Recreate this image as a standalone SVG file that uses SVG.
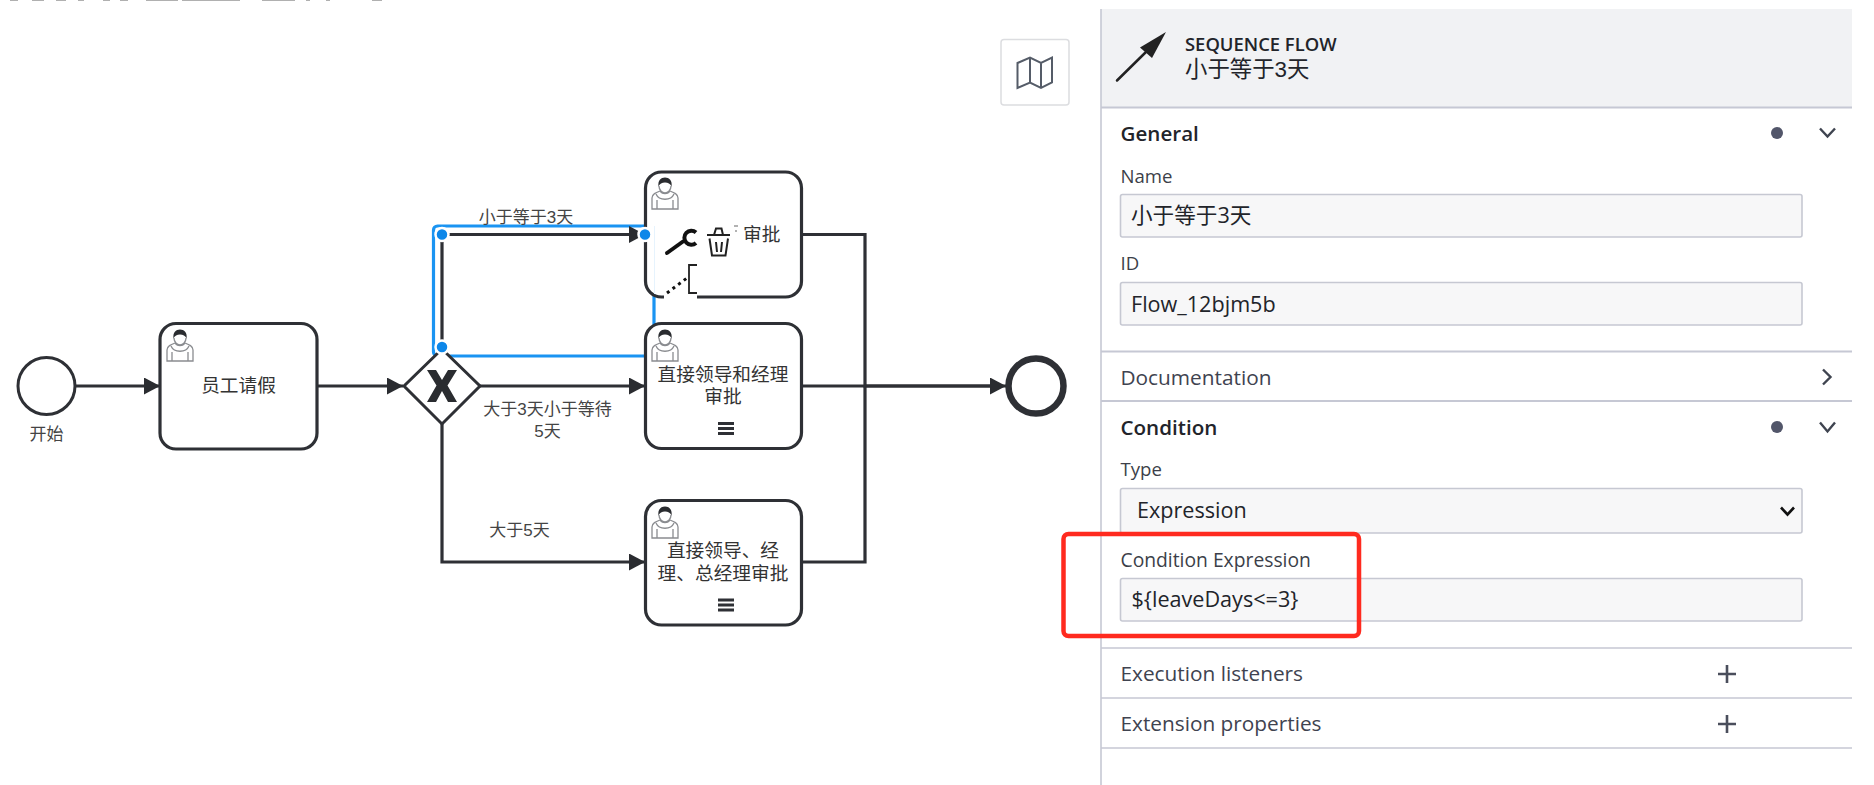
<svg xmlns="http://www.w3.org/2000/svg" xmlns:xlink="http://www.w3.org/1999/xlink" width="1874" height="785" viewBox="0 0 1874 785">
<style>
text{font-family:"Liberation Sans","Noto Sans CJK SC",sans-serif}
.t{font-size:18.7px;fill:#333;text-anchor:middle}
.l{font-size:17px;fill:#444;text-anchor:middle}
.task{fill:#fff;stroke:#2e3035;stroke-width:3.2}
.flow{fill:none;stroke:#2e3035;stroke-width:3.2}
.p{font-family:"Open Sans","Noto Sans CJK SC",sans-serif;fill:#22242a}
.h{font-size:20.6px;font-weight:600}
.f{font-size:18.6px;fill:#3c3f49}
.s{font-size:20.8px;fill:#404350}
.v{font-size:21.6px}
.inp{fill:#f7f7f8;stroke:#c6c8d2;stroke-width:1.6}
.div{stroke:#c6c8d4;stroke-width:1.6}
.chev{fill:none;stroke:#3f4450;stroke-width:2.4}
.dot{fill:#0d87e9;stroke:#fff;stroke-width:2.5}
.bar{fill:#2e3035}
</style>
<defs>
<marker id="arr" markerUnits="userSpaceOnUse" markerWidth="17" markerHeight="18" refX="16" refY="8.5" orient="auto"><path d="M0 0L16 8.5L0 17Z" fill="#2a2c30"/></marker>
<g id="user">
<path d="M1 32V21C1 17 5 15.500 9 14C11 17.500 17 17.500 19 14C23 15.500 27 17 27 21V32Z M1 32H27 M6 32V23 M22 32V23 M5 17C8 24 20 24 23 17" fill="#fff" stroke="#8a8c90" stroke-width="1.300"/>
<path d="M8 9C8 13 11 16 14 16C17 16 20 13 20 9" fill="#fff" stroke="#8a8c90" stroke-width="1.300"/>
<path d="M7.500 9.500C6.500 3.500 10 0.500 14 0.500C18 0.500 21.500 3.500 20.500 9.500C19.500 7 17 5.500 14 5.500C11 5.500 8.500 7 7.500 9.500Z" fill="#2a2c30"/>
</g>
<g id="menu" class="bar"><rect x="0" y="0" width="16" height="3"/><rect x="0" y="5" width="16" height="3"/><rect x="0" y="10" width="16" height="3"/></g>
</defs>
<rect width="1874" height="785" fill="#fff"/>
<path d="M10 .5H18M32 .5H44M56 .5H66M78 .5H84M103 .5H110M120 .5H128M146 .5H178M182 .5H240M262 .5H295M306 .5H310M326 .5H330M372 .5H382" stroke="#b0b0b0" stroke-width="1" fill="none"/>

<rect id="selection" x="433.500" y="226" width="220.500" height="130" rx="4" fill="none" stroke="#1a94f2" stroke-width="3.200"/>

<g id="connectors">
<path class="flow" marker-end="url(#arr)" d="M75 386H160"/>
<path class="flow" marker-end="url(#arr)" d="M317 386H403"/>
<path class="flow" marker-end="url(#arr)" d="M442 350V234.500H645"/>
<path class="flow" marker-end="url(#arr)" d="M480 386H645"/>
<path class="flow" marker-end="url(#arr)" d="M442 424V562H645"/>
<path class="flow" d="M802 234.500H865V386H990"/>
<path class="flow" marker-end="url(#arr)" d="M802 386H1006"/>
<path class="flow" d="M802 562H865V386"/>
</g>

<g id="start"><circle cx="46.500" cy="386" r="28.500" fill="#fff" stroke="#2e3035" stroke-width="3"/><text class="l" x="46.500" y="440">开始</text></g>

<g id="task-employee"><rect class="task" x="160" y="323.500" width="157" height="125.500" rx="16"/><use xlink:href="#user" href="#user" x="166" y="329"/><text class="t" x="238.500" y="392">员工请假</text></g>

<g id="gateway"><path d="M442 349L480 386L442 424L404 386Z" fill="#fff" stroke="#2e3035" stroke-width="3"/><path d="M427 370H436L442 380L448 370H457L447.500 385.500L457 402H448L442 391L436 402H427L436.500 385.500Z" fill="#2a2c30"/></g>

<g id="task-leader">
<rect class="task" x="645.500" y="172" width="156" height="125" rx="16"/>
<use xlink:href="#user" href="#user" x="651" y="177"/>
<path d="M654 226H739V262H697V299H664V294H654Z" fill="#fff"/>
<path d="M654.500 226V294" stroke="#1a94f2" stroke-width="1" opacity=".1"/>
<text class="t" x="743" y="241" style="text-anchor:start">审批</text>
<path d="M734 226H738M737 231H735" stroke="#666" stroke-width="1.200" fill="none"/>
<path d="M667 253L683 241.500" stroke="#111" stroke-width="4" stroke-linecap="round"/>
<path d="M696 232.500A7 7 0 1 0 696 243" fill="none" stroke="#111" stroke-width="4"/>
<path d="M707 235H730M714 235L716 228.500H721.500L723 235M709.500 238.500L712 255.500H725.500L728 238.500M716 242L717 252M722 242L721 252" fill="none" stroke="#222" stroke-width="2"/>
<path d="M667 293L687 278" stroke="#111" stroke-width="3" stroke-dasharray="3 4"/>
<path d="M697 265H689V293H697" fill="none" stroke="#222" stroke-width="1.800"/>
</g>

<g id="task-manager"><rect class="task" x="645.500" y="323.500" width="156" height="125" rx="16"/><use xlink:href="#user" href="#user" x="651" y="329"/><text class="t"><tspan x="723" y="381">直接领导和经理</tspan><tspan x="723" y="403">审批</tspan></text><use xlink:href="#menu" href="#menu" x="718" y="422"/></g>

<g id="task-general"><rect class="task" x="645.500" y="500.500" width="156" height="124.500" rx="16"/><use xlink:href="#user" href="#user" x="651" y="506"/><text class="t"><tspan x="723" y="557">直接领导、经</tspan><tspan x="723" y="580">理、总经理审批</tspan></text><use xlink:href="#menu" href="#menu" x="718" y="598.500"/></g>

<g id="end"><circle cx="1036" cy="386" r="27.500" fill="#fff" stroke="#2e3035" stroke-width="6.500"/></g>

<g id="labels">
<text class="l" x="526" y="222.500">小于等于3天</text>
<text class="l"><tspan x="547.500" y="415">大于3天小于等待</tspan><tspan x="547.500" y="437">5天</tspan></text>
<text class="l" x="519.500" y="535.500">大于5天</text>
</g>

<g id="map-button">
<rect x="1001" y="39.500" width="68" height="65.500" rx="3" fill="#fff" stroke="#dcdde0" stroke-width="1.500"/>
<path d="M1017.500 63L1030 57.500L1041 63L1052 57.500V82.500L1041 88L1030 82.500L1017.500 88ZM1030 57.500V82.500M1041 63V88" fill="#fff" stroke="#555c68" stroke-width="2"/>
</g>

<g id="panel">
<rect x="1101" y="9" width="751" height="98" fill="#f1f2f4"/>
<path d="M1101 9V785" stroke="#c6c8d4" stroke-width="1.600"/>
<path d="M1101 107.500H1852" stroke="#c6c8d4" stroke-width="2"/>
<path d="M1117 80.500L1148 50" stroke="#222" stroke-width="2.500" stroke-linecap="round"/>
<path d="M1166 32L1140 47.500L1152 58Z" fill="#222"/>
<text class="p" x="1185" y="51" style="font-size:18.400px;font-weight:600">SEQUENCE FLOW</text>
<text x="1185" y="76.500" style="font-size:22.400px;fill:#22242a">小于等于3天</text>

<text class="p h" x="1120.500" y="141">General</text>
<circle cx="1777" cy="133" r="6" fill="#52566a"/>
<path class="chev" d="M1820 128.500L1827.500 136.500L1835 128.500"/>
<text class="p f" x="1120.500" y="182.500">Name</text>
<rect class="inp" x="1120.500" y="194.500" width="681.500" height="42.500" rx="2"/>
<text class="p v" x="1131" y="223">小于等于3天</text>
<text class="p f" x="1120.500" y="270">ID</text>
<rect class="inp" x="1120.500" y="282.500" width="681.500" height="42.500" rx="2"/>
<text class="p v" x="1131" y="312">Flow_12bjm5b</text>
<path d="M1101 351.500H1852" stroke="#c6c8d4" stroke-width="2"/>
<text class="p s" x="1120.500" y="385">Documentation</text>
<path class="chev" d="M1823 369.500L1830.500 377L1823 384.500"/>
<path d="M1101 401H1852" stroke="#c6c8d4" stroke-width="2"/>
<text class="p h" x="1120.500" y="434.500">Condition</text>
<circle cx="1777" cy="427" r="6" fill="#52566a"/>
<path class="chev" d="M1820 422.500L1827.500 431.500L1835 422.500"/>
<text class="p f" x="1120.500" y="476">Type</text>
<rect class="inp" x="1120.500" y="488.500" width="681.500" height="44.500" rx="2"/>
<text class="p v" x="1137" y="518">Expression</text>
<path d="M1781 507.500L1787.500 514.500L1794 507.500" fill="none" stroke="#111" stroke-width="2.600"/>
<text class="p f" x="1120.500" y="567" style="font-size:19.300px">Condition Expression</text>
<rect class="inp" x="1120.500" y="578.500" width="681.500" height="42.500" rx="2"/>
<text class="p v" x="1131.500" y="607">${leaveDays&lt;=3}</text>
<path class="div" d="M1101 648H1852M1101 698H1852M1101 748H1852"/>
<text class="p s" x="1120.500" y="681">Execution listeners</text>
<text class="p s" x="1120.500" y="731">Extension properties</text>
<path d="M1718 674H1736M1727 665V683M1718 724H1736M1727 715V733" stroke="#4a4e5c" stroke-width="2.600" fill="none"/>
</g>

<rect id="highlight" x="1063.500" y="534" width="295.500" height="102" rx="5" fill="none" stroke="#ff2a1f" stroke-width="4.500"/>
<g id="handles">
<circle class="dot" cx="442" cy="234.500" r="6.500"/>
<circle class="dot" cx="442" cy="347" r="6.500"/>
<circle class="dot" cx="645" cy="234.500" r="6.500"/>
</g>
</svg>
